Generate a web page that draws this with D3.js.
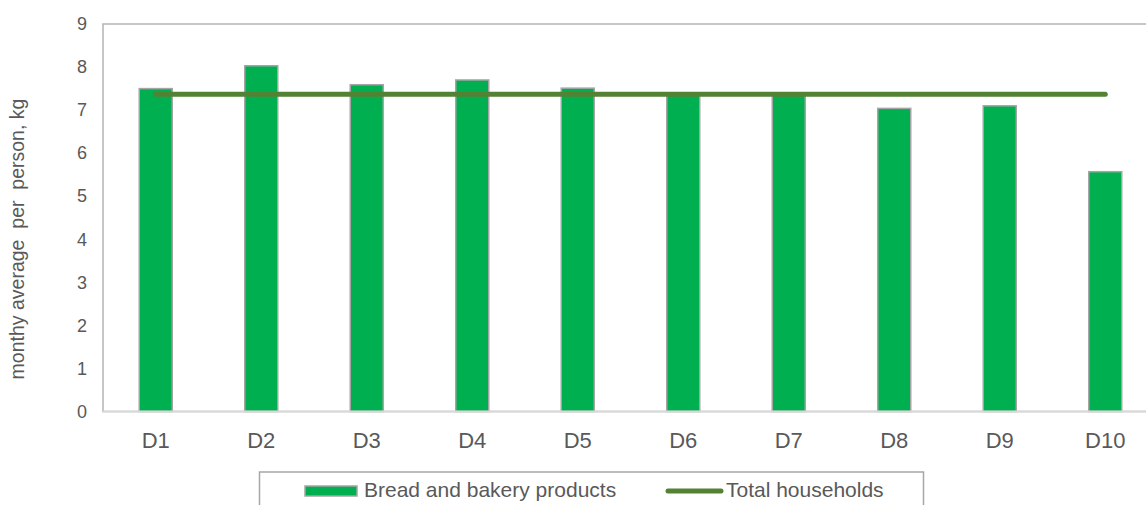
<!DOCTYPE html>
<html>
<head>
<meta charset="utf-8">
<script src="https://cdn.jsdelivr.net/npm/d3@7"></script>
<style>
  html, body { margin: 0; padding: 0; background: #fff; }
  text { font-family: "Liberation Sans", Arial, sans-serif; fill: #595959; }
</style>
</head>
<body>
<div id="chart"></div>
<script>
// deciles
const categories = ["D1", "D2", "D3", "D4", "D5", "D6", "D7", "D8", "D9", "D10"];
// bread and bakery products, kg per person per month
const breadValues = [7.5, 8.03, 7.59, 7.7, 7.51, 7.36, 7.39, 7.04, 7.1, 5.57];
// total households average
const totalValues = [7.37, 7.37, 7.37, 7.37, 7.37, 7.37, 7.37, 7.37, 7.37, 7.37];
const yTicks = [0, 1, 2, 3, 4, 5, 6, 7, 8, 9];
const seriesNames = ["Bread and bakery products", "Total households"];

const width = 1146, height = 505;
const margin = { top: 24, left: 103, bottom: 93 };
const plotRight = 1158;

const svg = d3.select("#chart")
  .append("svg")
  .attr("width", width)
  .attr("height", height);

const x = d3.scaleBand()
  .domain(categories)
  .range([margin.left, plotRight])
  .paddingInner(0.687)
  .paddingOuter(0.3435);

const y = d3.scaleLinear()
  .domain([0, 9])
  .range([height - margin.bottom - 0.5, margin.top]);

// plot frame
svg.append("rect")
  .attr("x", margin.left)
  .attr("y", y(9))
  .attr("width", plotRight - margin.left)
  .attr("height", y(0) - y(9))
  .attr("fill", "none")
  .attr("stroke", "#b4b4b4")
  .attr("stroke-width", 1.5);

// y axis labels
const yAxis = svg.append("g")
  .attr("transform", "translate(" + margin.left + ",0)")
  .call(d3.axisLeft(y).tickValues(yTicks).tickSize(0).tickPadding(16));
yAxis.select(".domain").remove();
yAxis.selectAll("text")
  .style("font-size", "18px")
  .attr("fill", "#595959");

// bars
svg.selectAll("rect.bar")
  .data(breadValues)
  .enter()
  .append("rect")
  .attr("class", "bar")
  .attr("x", (d, i) => x(categories[i]))
  .attr("y", d => y(d))
  .attr("width", x.bandwidth())
  .attr("height", d => y(0) - y(d))
  .attr("fill", "#00b050")
  .attr("stroke", "#a5a5a5")
  .attr("stroke-width", 1.5);

// bottom axis line
svg.append("line")
  .attr("x1", margin.left)
  .attr("x2", plotRight)
  .attr("y1", y(0))
  .attr("y2", y(0))
  .attr("stroke", "#d9d9d9")
  .attr("stroke-width", 2);

// x axis labels
const xAxis = svg.append("g")
  .attr("transform", "translate(0," + y(0) + ")")
  .call(d3.axisBottom(x).tickSize(0).tickPadding(21));
xAxis.select(".domain").remove();
xAxis.selectAll("text")
  .style("font-size", "22px")
  .attr("fill", "#595959");

// total households line
const line = d3.line()
  .x((d, i) => x(categories[i]) + x.bandwidth() / 2)
  .y(d => y(d));

svg.append("path")
  .datum(totalValues)
  .attr("d", line)
  .attr("fill", "none")
  .attr("stroke", "#548235")
  .attr("stroke-width", 5)
  .attr("stroke-linecap", "round");

// y axis title
svg.append("text")
  .attr("transform", "translate(24,239) rotate(-90)")
  .attr("text-anchor", "middle")
  .style("font-size", "19.5px")
  .style("white-space", "pre")
  .text("monthy average  per  person, kg");

// legend
const legend = svg.append("g");
legend.append("rect")
  .attr("x", 259.5)
  .attr("y", 472)
  .attr("width", 664)
  .attr("height", 60)
  .attr("fill", "none")
  .attr("stroke", "#a6a6a6")
  .attr("stroke-width", 1.5);

legend.append("rect")
  .attr("x", 305)
  .attr("y", 486)
  .attr("width", 52)
  .attr("height", 10)
  .attr("fill", "#00b050")
  .attr("stroke", "#a5a5a5")
  .attr("stroke-width", 1.5);
legend.append("text")
  .attr("x", 364)
  .attr("y", 497)
  .style("font-size", "21px")
  .text(seriesNames[0]);

legend.append("line")
  .attr("x1", 668)
  .attr("x2", 721)
  .attr("y1", 491)
  .attr("y2", 491)
  .attr("stroke", "#548235")
  .attr("stroke-width", 5)
  .attr("stroke-linecap", "round");
legend.append("text")
  .attr("x", 726)
  .attr("y", 497)
  .style("font-size", "21px")
  .text(seriesNames[1]);
</script>
</body>
</html>
